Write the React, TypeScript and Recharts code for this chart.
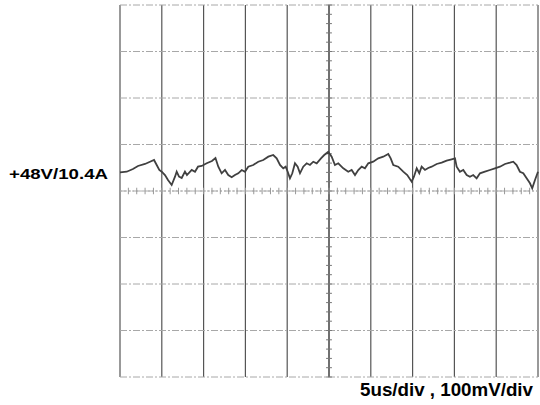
import React from 'react';
import { LineChart, Line, XAxis, YAxis, CartesianGrid, ReferenceLine } from 'recharts';

// Time in microseconds (5 us/div), ripple in mV (100 mV/div) relative to centre line
const timeUs = [
  0, 0.8, 1.55, 2.15, 2.99, 3.59, 4.07, 4.39, 4.7, 4.99,
  5.38, 5.74, 6.18, 6.58, 6.78, 7.06, 7.38, 7.77, 8.01, 8.58,
  8.97, 9.33, 9.77, 10.37, 11.0, 11.42, 11.76, 12.16, 12.56, 12.95,
  13.36, 13.75, 14.15, 14.56, 14.95, 15.34, 15.94, 16.54, 17.14, 17.74,
  18.33, 18.74, 19.14, 19.53, 19.82, 20.06, 20.33, 20.61, 20.93, 21.25,
  21.53, 21.92, 22.33, 22.72, 23.12, 23.53, 24.04, 24.43, 24.91, 25.32,
  25.71, 26.11, 26.71, 27.3, 27.71, 28.11, 28.5, 28.91, 29.3, 29.7,
  30.29, 30.89, 31.49, 32.09, 32.38, 32.69, 33.28, 33.88, 34.36, 34.89,
  35.16, 35.49, 35.8, 36.08, 36.48, 36.87, 37.28, 37.88, 38.48, 39.07,
  39.67, 40.07, 40.27, 40.66, 41.06, 41.47, 41.86, 42.25, 42.66, 43.06,
  43.65, 44.25, 44.85, 45.45, 46.05, 46.64, 47.04, 47.44, 47.84, 48.24,
  48.64, 49.04, 49.31, 49.64, 50.0,
];
const rippleMv = [
  40, 41.5, 47.3, 53.8, 58.1, 63.0, 66.7, 55.9, 45.2, 41.5,
  34.4, 23.7, 12.9, 30.8, 41.5, 30.8, 28.0, 41.5, 34.4, 45.2,
  41.5, 52.3, 53.8, 59.6, 64.5, 71.0, 52.3, 38.1, 45.2, 34.4,
  29.5, 34.4, 38.1, 45.2, 41.5, 52.3, 55.9, 63.0, 66.7, 73.8,
  77.4, 70.3, 55.9, 48.8, 52.3, 41.5, 27.3, 38.1, 59.6, 52.3,
  38.1, 52.3, 59.6, 55.9, 63.0, 59.6, 70.3, 77.4, 84.5, 73.8,
  55.9, 59.6, 48.8, 41.5, 45.2, 34.4, 45.2, 52.3, 48.8, 59.6,
  63.0, 70.3, 73.8, 79.6, 70.3, 55.9, 52.3, 41.5, 34.4, 20.0,
  30.8, 48.8, 38.1, 52.3, 45.2, 49.5, 52.3, 58.1, 60.9, 65.2,
  68.2, 70.3, 52.3, 41.5, 45.2, 34.4, 30.8, 34.4, 27.3, 38.1,
  41.5, 45.2, 48.8, 52.3, 58.1, 60.9, 63.0, 55.9, 41.5, 38.1,
  27.3, 16.6, 5.8, 23.7, 41.5,
];

const xTicks = [0, 5, 10, 15, 20, 25, 30, 35, 40, 45, 50];
const yTicks = [-400, -300, -200, -100, 0, 100, 200, 300, 400];
const centerTime = 25;
const centerMinorTimes = Array.from({ length: 51 }, (_, i) => i);
const centerMinorVolts = Array.from({ length: 41 }, (_, i) => -400 + i * 20);

const voltageLabel = '+48V/10.4A';
const scaleLabel = '5us/div , 100mV/div';

const data = timeUs.map((t, i) => ({ t, v: rippleMv[i] }));

export default function App() {
  return (
    <div style={{ position: 'absolute', left: 0, top: 0, width: 540, height: 405, background: '#fff' }}>
      <LineChart
        width={540}
        height={405}
        data={data}
        margin={{ top: 5, right: 2, bottom: 28, left: 120 }}
      >
        <XAxis dataKey="t" type="number" domain={[0, 50]} ticks={xTicks} hide />
        <YAxis type="number" domain={[-400, 400]} ticks={yTicks} hide />
        <CartesianGrid horizontal={false} stroke="#555" strokeWidth={1.2} />
        <CartesianGrid vertical={false} stroke="#a8a8a8" strokeDasharray="7 2 2 2" />
        <ReferenceLine x={centerTime} stroke="#555" strokeWidth={1.2} />
        <ReferenceLine y={0} stroke="#b0b0b0" strokeDasharray="2 2" />
        {centerMinorTimes.map((t) => (
          <ReferenceLine
            key={'mx' + t}
            segment={[{ x: t, y: -7 }, { x: t, y: 7 }]}
            stroke="#999"
          />
        ))}
        {centerMinorVolts.map((v) => (
          <ReferenceLine
            key={'my' + v}
            segment={[{ x: centerTime - 0.35, y: v }, { x: centerTime + 0.35, y: v }]}
            stroke="#777"
          />
        ))}
        <Line
          type="linear"
          dataKey="v"
          stroke="#404040"
          strokeWidth={1.8}
          dot={false}
          isAnimationActive={false}
        />
      </LineChart>
      <svg width={540} height={405} style={{ position: 'absolute', left: 0, top: 0, pointerEvents: 'none' }}>
        <text
          x={9}
          y={178.5}
          fontFamily="'Liberation Sans', Arial, sans-serif"
          fontWeight="bold"
          fontSize={15.5}
          fill="#000"
          textLength={99}
          lengthAdjust="spacingAndGlyphs"
        >
          {voltageLabel}
        </text>
        <text
          x={360}
          y={396}
          fontFamily="'Liberation Sans', Arial, sans-serif"
          fontWeight="bold"
          fontSize={18.5}
          fill="#000"
          textLength={173}
          lengthAdjust="spacingAndGlyphs"
        >
          {scaleLabel}
        </text>
      </svg>
    </div>
  );
}
